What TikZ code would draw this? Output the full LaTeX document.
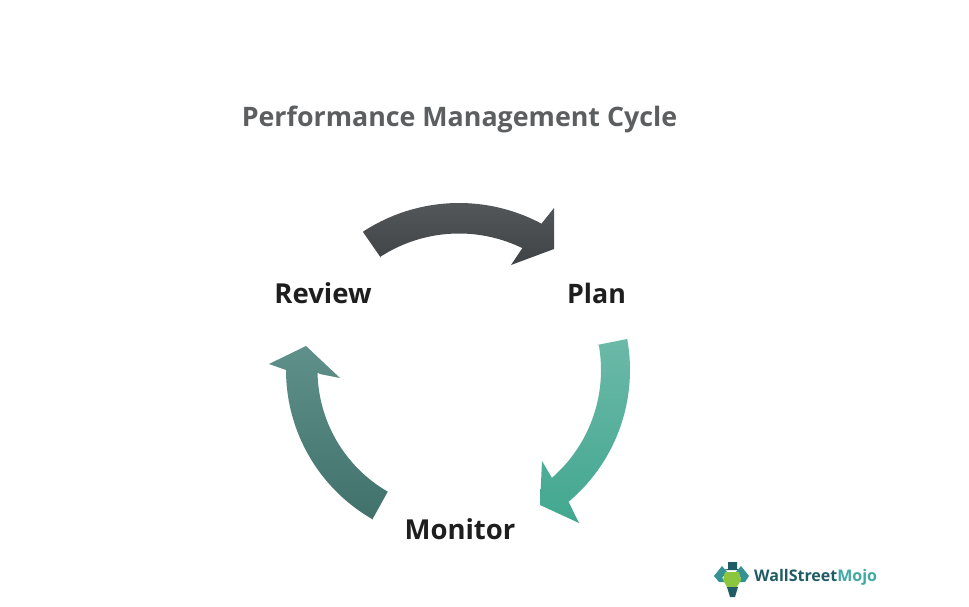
\documentclass[tikz,border=0pt]{standalone}
\usepackage{fontspec}
\setmainfont{Open Sans}
\definecolor{titlegray}{HTML}{5C5E60}
\definecolor{labelink}{HTML}{1E1E1E}
\definecolor{logoteal}{HTML}{1F5C66}
\definecolor{logolight}{HTML}{3FA9A5}
\definecolor{logogreen}{HTML}{8CC63F}
\definecolor{darktop}{HTML}{53575A}
\definecolor{darkbot}{HTML}{404345}
\definecolor{mintop}{HTML}{6CB9A8}
\definecolor{minbot}{HTML}{42A78F}
\definecolor{deeptop}{HTML}{5F918A}
\definecolor{deepbot}{HTML}{40716B}
\tikzset{
  titletext/.style={font=\bfseries\fontsize{26.8}{30}\selectfont,text=titlegray,inner sep=0pt},
  steptext/.style={font=\bfseries\fontsize{27.5}{30}\selectfont,text=labelink,inner sep=0pt},
  logotext/.style={font=\bfseries\fontsize{16}{18}\selectfont,inner sep=0pt},
  arcplot/.style={samples=48,smooth},
}
\begin{document}
\begin{tikzpicture}[x=1pt,y=-1pt]
\useasboundingbox (0,0) rectangle (969,607);
\fill[white] (0,0) rectangle (969,607);
\node[titletext] (title) at (459.5,119.5) {Performance Management Cycle};
% top arrow
\shade[top color=darktop,bottom color=darkbot] (363,232) -- (381,258)
  -- plot[arcplot,domain=123:64] ({459+144.5*cos(\x)},{378-144.5*sin(\x)})
  -- (511,265) -- (554,249) -- (554,208) -- (542,223)
  -- plot[arcplot,domain=61.8:123.3] ({459+175*cos(\x)},{378-175*sin(\x)}) -- cycle;
% right arrow
\shade[top color=mintop,bottom color=minbot] (597,345) -- (627,339)
  -- plot[arcplot,domain=10.4:-50] ({458+172*cos(\x)},{370-172*sin(\x)})
  -- (579,523) -- (540,505) -- (542,461) -- (552,478)
  -- plot[arcplot,domain=-49:10] ({458+143*cos(\x)},{370-143*sin(\x)}) -- cycle;
% left arrow
\shade[top color=deeptop,bottom color=deepbot] (387,493) -- (372,520)
  -- plot[arcplot,domain=240.2:180] ({458+172*cos(\x)},{370-172*sin(\x)})
  -- (269,364) -- (306,346) -- (340,378) -- (320,374)
  -- plot[arcplot,domain=181:240] ({458+140.5*cos(\x)},{370-140.5*sin(\x)}) -- cycle;
\node[steptext,font=\bfseries\fontsize{26.8}{30}\selectfont] (plan) at (596.5,293) {Plan};
\node[steptext] (review) at (323,293) {Review};
\node[steptext] (monitor) at (460,529.5) {Monitor};
% logo
\fill[logoteal] (728,562) -- (737,562) -- (737,569) -- (742,570) -- (722,570) -- (728,569) -- cycle;
\fill[logolight!70!logoteal] (714,576) -- (722,566) -- (727,572) -- (722,578) -- (726,582) -- (719,582) -- cycle;
\fill[logolight!70!logoteal] (749,576) -- (741,566) -- (736,572) -- (741,578) -- (737,582) -- (745,582) -- cycle;
\fill[logogreen] (725,572) -- (739,572) -- (741,580) -- (737,587) -- (727,587) -- (723,580) -- cycle;
\fill[logoteal] (727,587) -- (738,587) -- (735,597) -- (730,597) -- cycle;
\node[logotext,anchor=west] (logo) at (754,577) {\textcolor{logoteal}{WallStreet}\textcolor{logolight}{Mojo}};
\end{tikzpicture}
\end{document}
